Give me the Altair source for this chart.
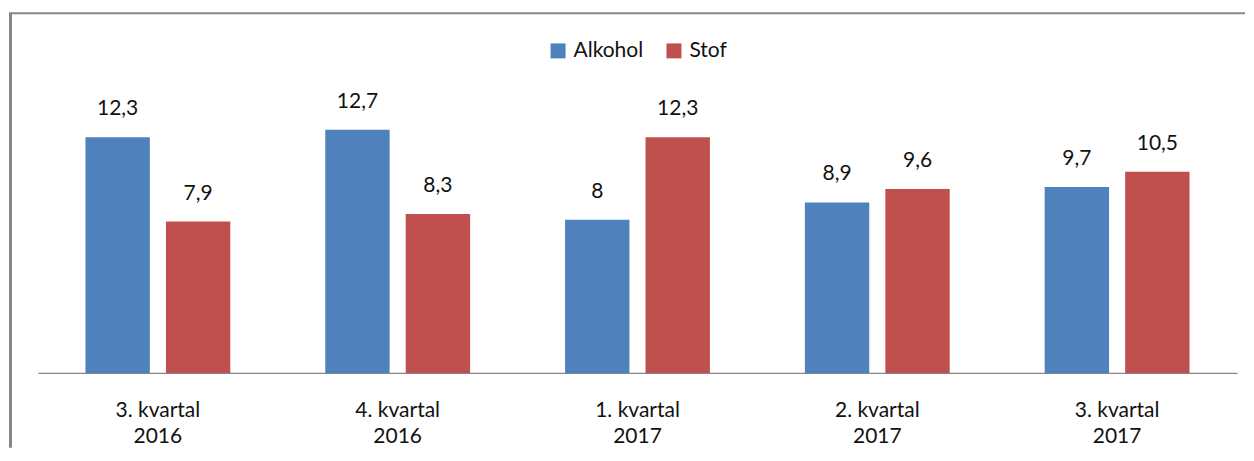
import altair as alt
import pandas as pd

quarters = ["3. kvartal\n2016", "4. kvartal\n2016", "1. kvartal\n2017",
            "2. kvartal\n2017", "3. kvartal\n2017"]
series = ["Alkohol", "Stof"]
alkohol = [12.3, 12.7, 8.0, 8.9, 9.7]
stof = [7.9, 8.3, 12.3, 9.6, 10.5]
alkohol_labels = ["12,3", "12,7", "8", "8,9", "9,7"]
stof_labels = ["7,9", "8,3", "12,3", "9,6", "10,5"]
colors = ["#4F81BD", "#C0504D"]

rows = []
for i, q in enumerate(quarters):
    rows.append({"kvartal": q, "serie": series[0], "value": alkohol[i], "label": alkohol_labels[i]})
    rows.append({"kvartal": q, "serie": series[1], "value": stof[i], "label": stof_labels[i]})
df = pd.DataFrame(rows)

FONT = "Lato"

x_enc = alt.X("kvartal:N", sort=quarters, title=None,
              scale=alt.Scale(paddingInner=0.396, paddingOuter=0.198),
              axis=alt.Axis(labelExpr="split(datum.label, '\\n')", labelAngle=0,
                            ticks=False, tickSize=0, labelPadding=44,
                            labelBaseline="alphabetic", labelLineHeight=26,
                            labelFontSize=21, labelFont=FONT, labelColor="#111111",
                            domainColor="#868686", domainWidth=1.2, grid=False))
y_enc = alt.Y("value:Q", axis=None, scale=alt.Scale(domain=[0, 18]))
xo = alt.XOffset("serie:N", sort=series, scale=alt.Scale(paddingInner=0.2, paddingOuter=0))

base = alt.Chart(df)

bars = base.mark_bar().encode(
    x=x_enc, y=y_enc, xOffset=xo,
    color=alt.Color("serie:N", sort=series,
                    scale=alt.Scale(domain=series, range=colors),
                    legend=alt.Legend(title=None, orient="none", direction="horizontal",
                                      legendX=510, legendY=12, symbolType="square",
                                      symbolSize=225, symbolStrokeWidth=0,
                                      labelFontSize=21, labelFont=FONT, labelColor="#111111",
                                      labelOffset=5, columnPadding=20)),
)

texts = base.mark_text(baseline="alphabetic", dy=-22, fontSize=21, font=FONT,
                       color="#111111").encode(
    x=x_enc, y=y_enc, xOffset=xo, text="label:N",
)

frame_df = pd.DataFrame({"f": [0]})
left_rule = alt.Chart(frame_df).mark_rule(color="#868686", strokeWidth=3).encode(
    x=alt.value(-27.5), y=alt.value(-15), y2=alt.value(420))
top_rule = alt.Chart(frame_df).mark_rule(color="#868686", strokeWidth=2).encode(
    x=alt.value(-29), x2=alt.value(1208), y=alt.value(-15))

chart = alt.layer(left_rule, top_rule, bars, texts).properties(
    width=1200, height=345,
    padding={"left": 0, "top": 3, "right": 0, "bottom": 0},
).configure(background="white").configure_view(stroke=None, strokeWidth=0)

chart.save("out.html", embed_options={"renderer": "svg", "actions": False})
